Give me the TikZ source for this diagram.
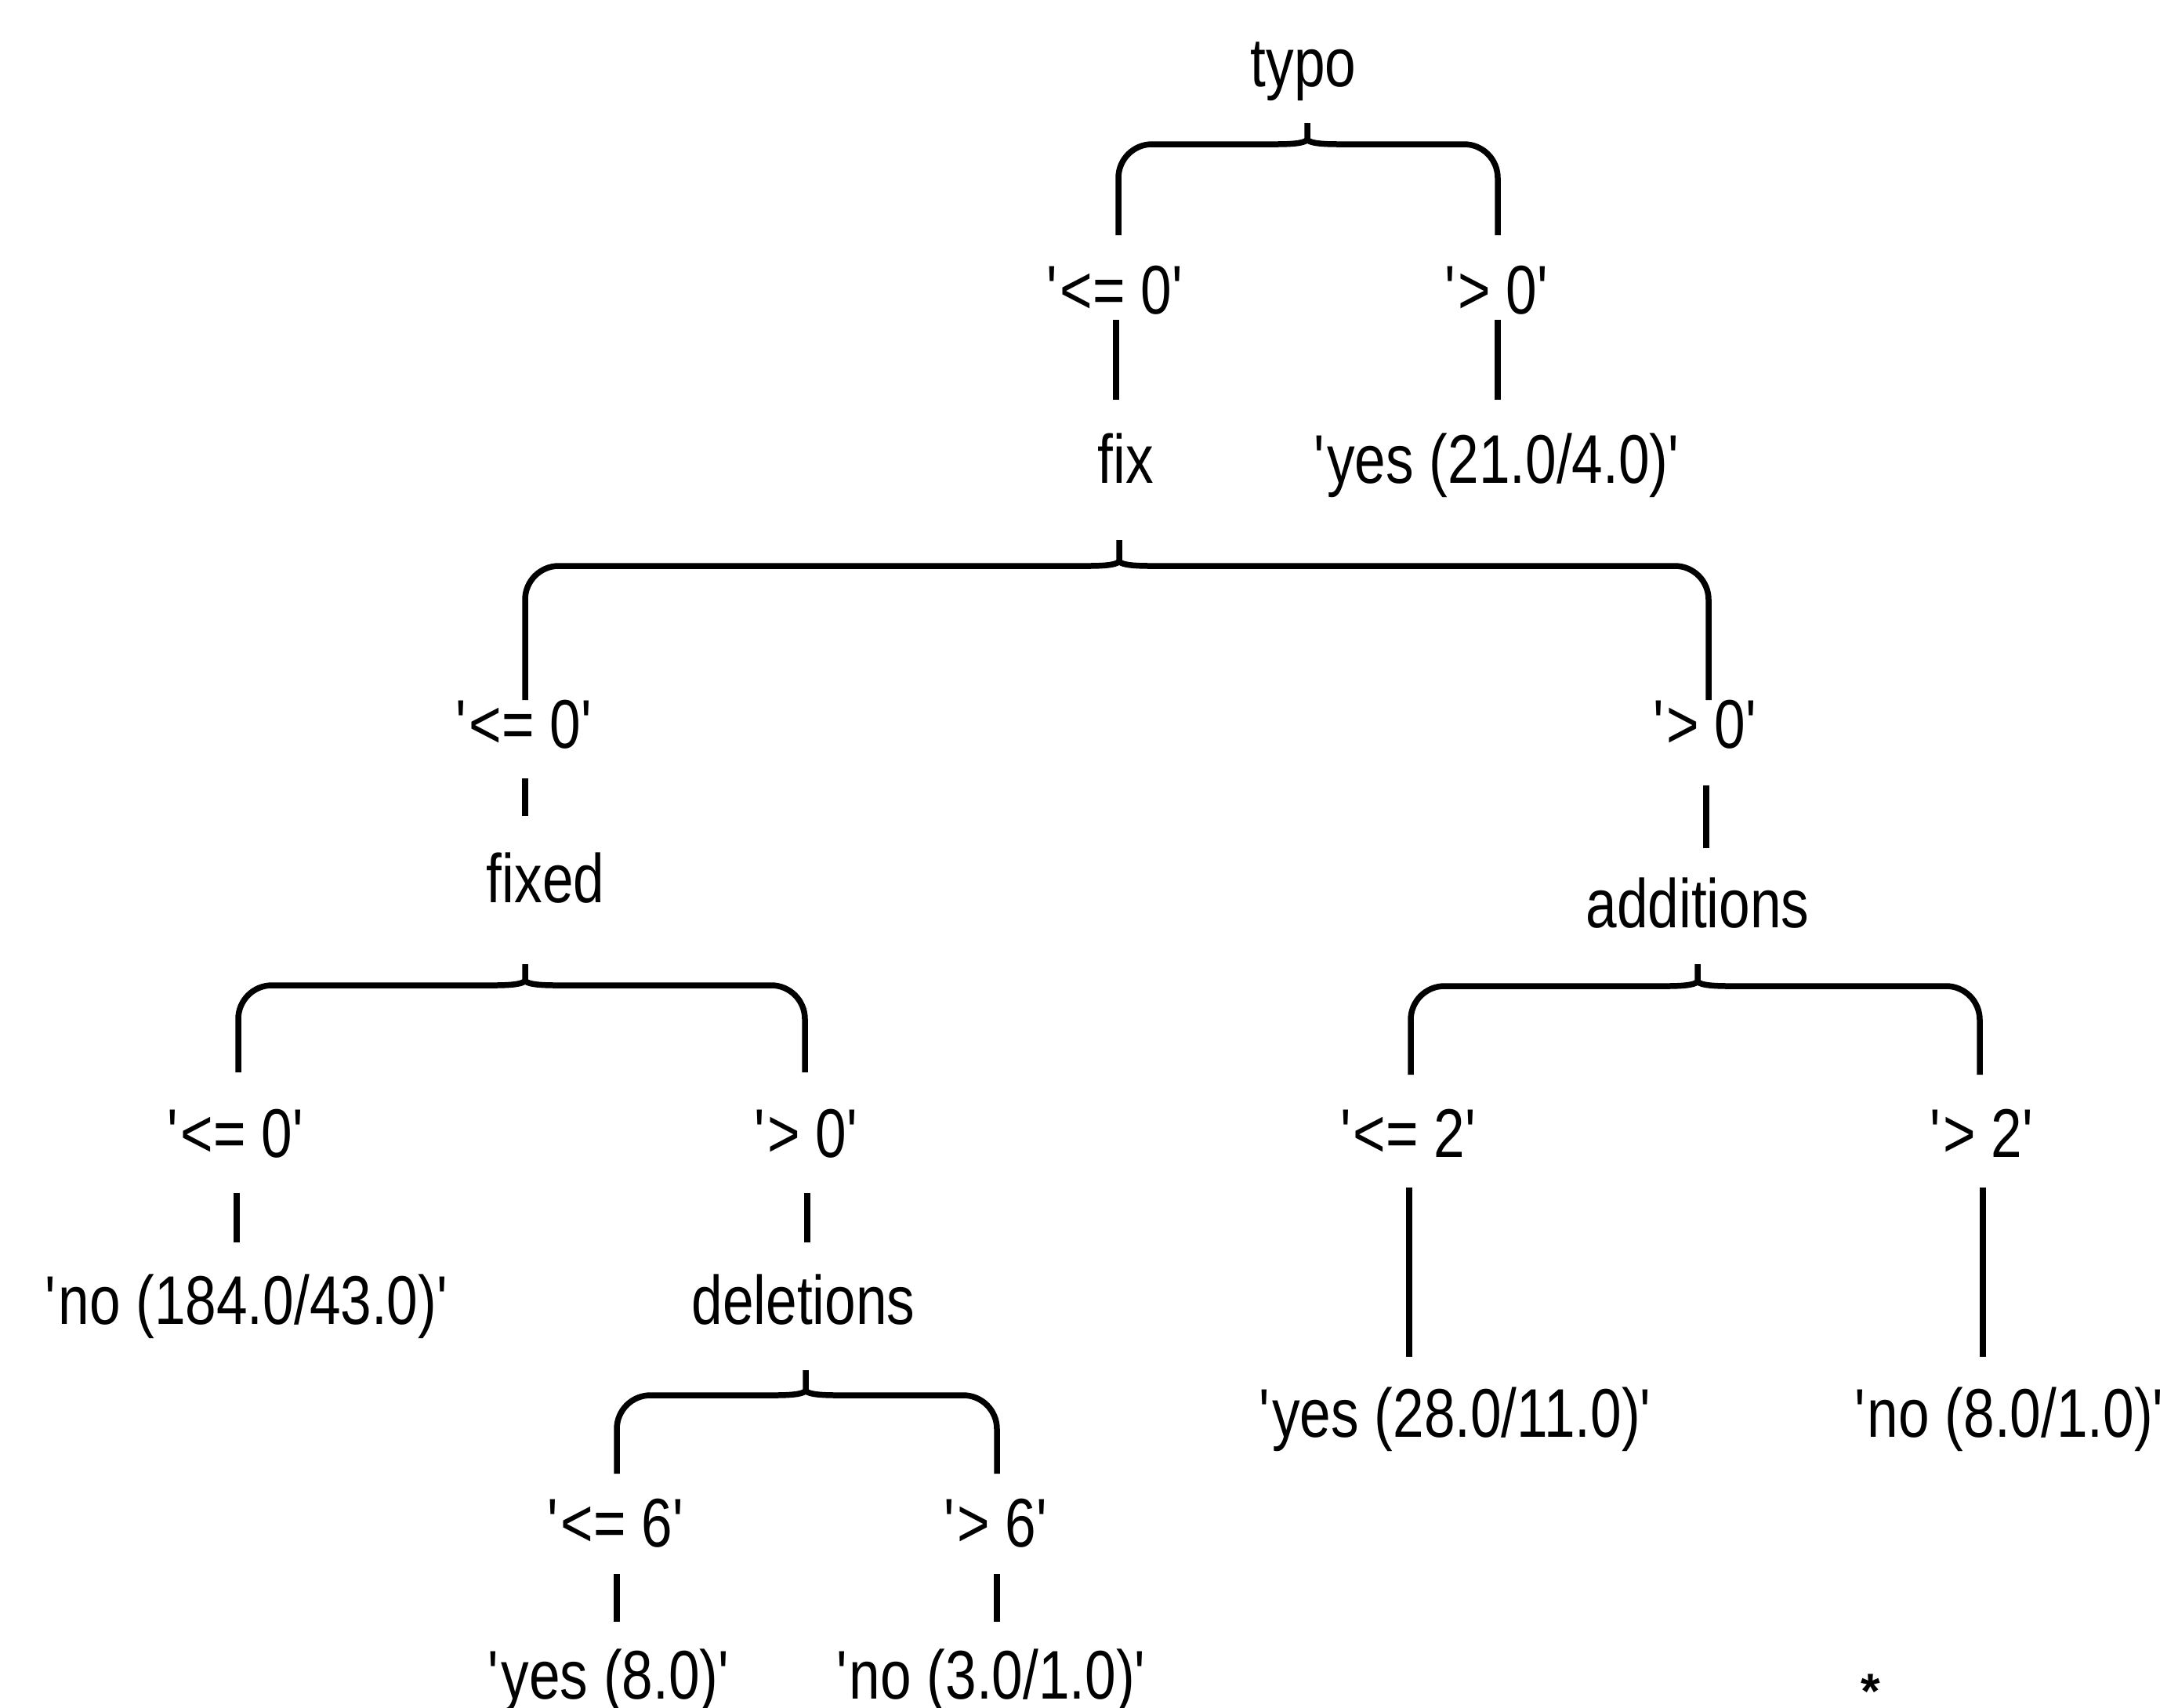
\documentclass[tikz,border=0pt]{standalone}
\usepackage{fontspec}
\newfontfamily\treefont{Liberation Sans}[FakeStretch=0.81]
\newfontfamily\starfont{Liberation Sans}
\newcommand{\q}{\textquotesingle}
\tikzset{
  lbl/.style={font=\treefont\fontsize{25}{30}\selectfont, inner sep=0pt, anchor=base},
  edge/.style={line width=0.075cm},
  bracepath/.style={line width=0.075cm, line join=round},
}
% #1 tip x, #2 tip top y, #3 horizontal y, #4 left leg x, #5 right leg x, #6 leg bottom y
\newcommand{\treebrace}[6]{%
  \draw[bracepath] (#4,#6) -- (#4,#3-0.43) arc[start angle=180,end angle=90,radius=0.43]
    -- (#1-0.40,#3) .. controls (#1-0.15,#3) and (#1,#3+0.02) .. (#1,#3+0.07) -- (#1,#2);
  \draw[bracepath] (#5,#6) -- (#5,#3-0.43) arc[start angle=0,end angle=90,radius=0.43]
    -- (#1+0.40,#3) .. controls (#1+0.15,#3) and (#1,#3+0.02) .. (#1,#3+0.07);
}
\begin{document}
\begin{tikzpicture}
\useasboundingbox[fill=white] (0,0) rectangle (27.56,-21.78);

% nodes
\node[lbl] (typo) at (16.63,-1.10) {typo};
\node[lbl] (c1l) at (14.24,-4.00) {\q<= 0\q};
\node[lbl] (c1r) at (19.11,-4.00) {\q> 0\q};
\node[lbl] (fix) at (14.36,-6.16) {fix};
\node[lbl] (yes1) at (19.11,-6.16) {\q yes (21.0/4.0)\q};
\node[lbl] (c2l) at (6.70,-9.54) {\q<= 0\q};
\node[lbl] (c2r) at (21.77,-9.54) {\q> 0\q};
\node[lbl] (fixed) at (6.96,-11.51) {fixed};
\node[lbl] (add) at (21.66,-11.83) {additions};
\node[lbl] (c3l) at (3.02,-14.76) {\q<= 0\q};
\node[lbl] (c3r) at (10.30,-14.76) {\q> 0\q};
\node[lbl] (no1) at (3.16,-16.89) {\q no (184.0/43.0)\q};
\node[lbl] (del) at (10.25,-16.89) {deletions};
\node[lbl] (c4l) at (17.98,-14.76) {\q<= 2\q};
\node[lbl] (c4r) at (25.30,-14.76) {\q> 2\q};
\node[lbl] (yes2) at (18.58,-18.33) {\q yes (28.0/11.0)\q};
\node[lbl] (no2) at (25.65,-18.33) {\q no (8.0/1.0)\q};
\node[lbl] (c5l) at (7.87,-19.73) {\q<= 6\q};
\node[lbl] (c5r) at (12.72,-19.73) {\q> 6\q};
\node[lbl] (yes3) at (7.78,-21.67) {\q yes (8.0)\q};
\node[lbl] (no3) at (12.66,-21.67) {\q no (3.0/1.0)\q};
\node[font=\starfont\bfseries\fontsize{18}{22}\selectfont, inner sep=0pt, anchor=north] (star) at (23.87,-21.35) {*};

% braces
\treebrace{16.68}{-1.57}{-1.84}{14.27}{19.11}{-3.00}
\treebrace{14.28}{-6.89}{-7.22}{6.70}{21.80}{-8.93}
\treebrace{6.70}{-12.30}{-12.57}{3.04}{10.27}{-13.68}
\treebrace{21.66}{-12.30}{-12.58}{18.00}{25.26}{-13.71}
\treebrace{10.28}{-17.48}{-17.80}{7.87}{12.72}{-18.80}

% vertical connectors
\draw[edge] (c1l |- 0,-4.08) -- (c1l |- 0,-5.10);
\draw[edge] (c1r |- 0,-4.08) -- (c1r |- 0,-5.10);
\draw[edge] (c2l |- 0,-9.93) -- (c2l |- 0,-10.41);
\draw[edge] (c2r |- 0,-10.02) -- (c2r |- 0,-10.82);
\draw[edge] (c3l |- 0,-15.22) -- (c3l |- 0,-15.85);
\draw[edge] (c3r |- 0,-15.22) -- (c3r |- 0,-15.85);
\draw[edge] (c4l |- 0,-15.15) -- (c4l |- 0,-17.31);
\draw[edge] (c4r |- 0,-15.15) -- (c4r |- 0,-17.31);
\draw[edge] (c5l |- 0,-20.08) -- (c5l |- 0,-20.69);
\draw[edge] (c5r |- 0,-20.08) -- (c5r |- 0,-20.69);
\end{tikzpicture}
\end{document}
